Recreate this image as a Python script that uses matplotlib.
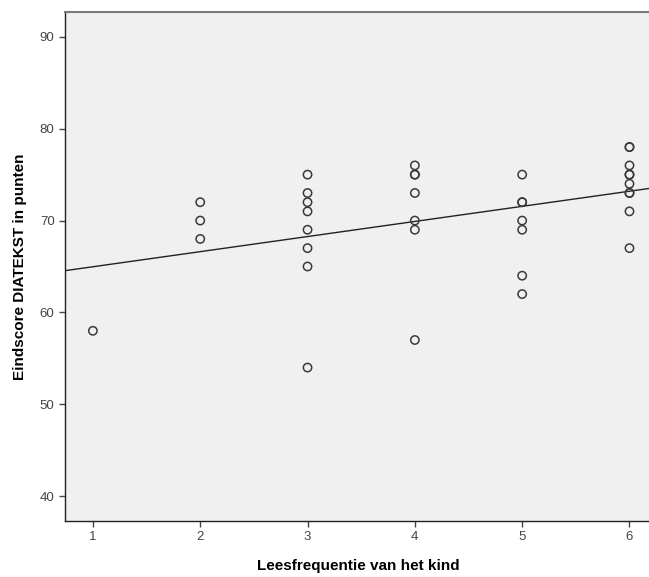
import numpy as np
import matplotlib
matplotlib.use("Agg")
import matplotlib.pyplot as plt

plt.rcParams['font.family'] = ['Liberation Sans', 'DejaVu Sans']

# Data
freq_1 = [58]
freq_2 = [72, 70, 68]
freq_3 = [75, 73, 72, 71, 69, 67, 65, 54]
freq_4 = [76, 75, 75, 73, 70, 69, 57]
freq_5 = [75, 72, 72, 70, 69, 64, 62]
freq_6 = [78, 78, 76, 75, 75, 74, 73, 73, 71, 67]
groups = [freq_1, freq_2, freq_3, freq_4, freq_5, freq_6]
x_levels = [1, 2, 3, 4, 5, 6]

x_ticks = [1, 2, 3, 4, 5, 6]
y_ticks = [40, 50, 60, 70, 80, 90]
x_label = "Leesfrequentie van het kind"
y_label = "Eindscore DIATEKST in punten"

xs = np.concatenate([[lv] * len(g) for lv, g in zip(x_levels, groups)])
ys = np.concatenate([g for g in groups]).astype(float)

fig = plt.figure(figsize=(6.49, 5.77), dpi=100)
ax = fig.add_axes([65/649, 1-521/577, 1.003 - 65/649, (521-12)/577])
ax.set_facecolor('#F0F0F0')

xmin, xmax = 0.74, 6.2
ax.set_xlim(xmin, xmax)
ax.set_ylim(37.3, 92.7)

slope, intercept = np.polyfit(xs, ys, 1)
lx = np.array([xmin, xmax])
ax.plot(lx, intercept + slope * lx, color='#222222', lw=1.0, zorder=2)

ax.scatter(xs, ys, s=36, facecolors='none', edgecolors='#3a3a3a',
           linewidths=1.1, zorder=3)

ax.set_xticks(x_ticks)
ax.set_yticks(y_ticks)
ax.tick_params(axis='both', direction='out', length=4.5, width=1,
               color='#444444', labelcolor='#444444', labelsize=9.5, pad=3)
for name, s in ax.spines.items():
    s.set_color('#222222')
    s.set_linewidth(1.0)
ax.spines['top'].set_color('#7a7a7a')
ax.spines['top'].set_linewidth(1.5)

ax.set_xlabel(x_label, fontsize=11, fontweight='bold', labelpad=11)
ax.set_ylabel(y_label, fontsize=11, fontweight='bold', labelpad=9)

fig.savefig("out.png", dpi=100, facecolor='white')
